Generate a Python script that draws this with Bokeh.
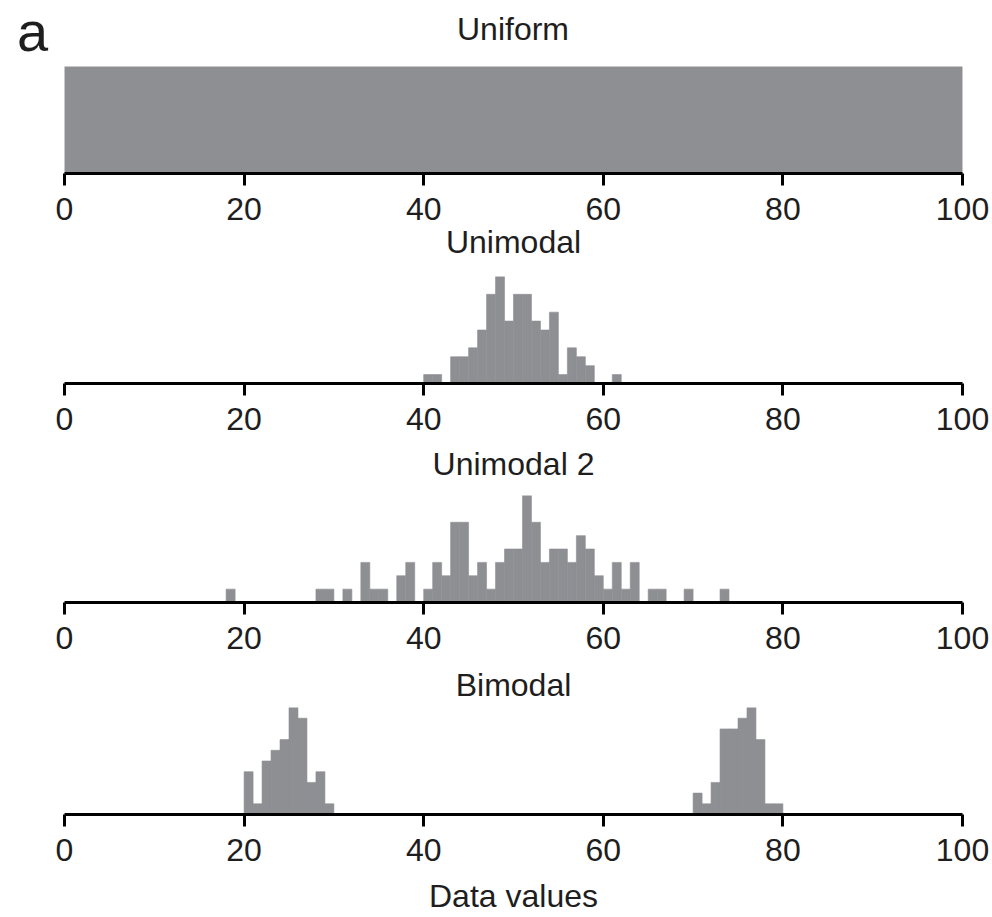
from bokeh.plotting import figure
from bokeh.layouts import column
from bokeh.models import Range1d, FixedTicker, Div
from bokeh.embed import file_html
from bokeh.resources import INLINE

FONT = "Liberation Sans"
GRAY = "#8e8f93"
TXT = "#1e1e1e"

# ---------------- data ----------------
ticks = [0, 20, 40, 60, 80, 100]
panel_letter = "a"
panel_titles = ["Uniform", "Unimodal", "Unimodal 2", "Bimodal"]
x_axis_title = "Data values"

uniform_bins = [0]
uniform_widths = [100]
uniform_counts = [1]

unimodal_bins = [40, 41, 43, 44, 45, 46, 47, 48, 49, 50, 51, 52, 53, 54, 55, 56, 57, 58, 61]
unimodal_counts = [1, 1, 3, 3, 4, 6, 10, 12, 7, 10, 10, 7, 6, 8, 1, 4, 3, 2, 1]

unimodal2_bins = [18, 28, 29, 31, 33, 34, 35, 37, 38, 40, 41, 42, 43, 44, 45, 46, 47, 48, 49,
                  50, 51, 52, 53, 54, 55, 56, 57, 58, 59, 60, 61, 62, 63, 65, 66, 69, 73]
unimodal2_counts = [1, 1, 1, 1, 3, 1, 1, 2, 3, 1, 3, 2, 6, 6, 2, 3, 1, 3, 4,
                    4, 8, 6, 3, 4, 4, 3, 5, 4, 2, 1, 3, 1, 3, 1, 1, 1, 1]

bimodal_bins = [20, 21, 22, 23, 24, 25, 26, 27, 28, 29, 70, 71, 72, 73, 74, 75, 76, 77, 78, 79]
bimodal_counts = [4, 1, 5, 6, 7, 10, 9, 3, 4, 1, 2, 1, 3, 8, 8, 9, 10, 7, 1, 1]

FRAME_W = 898
FRAME_H = 107
LEFT = 64
RIGHT = 30
TOTAL_W = LEFT + FRAME_W + RIGHT


def panel(bins, counts, widths, top_border, bottom_border, below_text, below_standoff):
    p = figure(frame_width=FRAME_W, frame_height=FRAME_H,
               x_range=Range1d(0, 100), y_range=Range1d(0, max(counts)),
               y_axis_location=None, output_backend="svg", toolbar_location=None,
               min_border_left=LEFT, min_border_right=RIGHT, min_border_top=top_border,
               min_border_bottom=bottom_border)
    p.outline_line_color = None
    p.xgrid.visible = False
    p.ygrid.visible = False
    p.background_fill_color = None
    p.border_fill_color = "white"

    rights = [b + w for b, w in zip(bins, widths)]
    p.quad(left=bins, right=rights, bottom=0, top=counts,
           fill_color=GRAY, line_color=GRAY, line_width=0.6)

    ax = p.xaxis[0]
    ax.ticker = FixedTicker(ticks=ticks)
    ax.axis_line_width = 3
    ax.axis_line_color = "black"
    ax.major_tick_line_width = 3
    ax.major_tick_line_color = "black"
    ax.major_tick_out = 12
    ax.major_tick_in = 0
    ax.minor_tick_line_color = None
    ax.major_label_text_font = FONT
    ax.major_label_text_font_size = "32px"
    ax.major_label_text_color = TXT
    ax.major_label_standoff = 12
    # text that sits under this panel (next panel's heading / axis title)
    ax.axis_label = below_text
    ax.axis_label_text_font = FONT
    ax.axis_label_text_font_size = "32px"
    ax.axis_label_text_font_style = "normal"
    ax.axis_label_text_color = TXT
    ax.axis_label_standoff = below_standoff
    return p


HEAD_H = 60
head_html = (
    f'<div style="position:relative;width:{TOTAL_W}px;height:{HEAD_H}px;'
    f"font-family:'{FONT}',Arial,sans-serif;color:{TXT};\">"
    f'<span style="position:absolute;left:17px;top:4px;font-size:56px;line-height:1;">{panel_letter}</span>'
    f'<span style="position:absolute;left:{LEFT}px;width:{FRAME_W}px;top:13px;'
    f'font-size:32px;line-height:1;text-align:center;">{panel_titles[0]}</span>'
    '</div>'
)
head = Div(text=head_html, width=TOTAL_W, height=HEAD_H, margin=0)

p1 = panel(uniform_bins, uniform_counts, uniform_widths, 66 - HEAD_H, 103, panel_titles[1], 1)
p2 = panel(unimodal_bins, unimodal_counts, [1] * len(unimodal_bins), 0, 112, panel_titles[2], 13)
p3 = panel(unimodal2_bins, unimodal2_counts, [1] * len(unimodal2_bins), 0, 105, panel_titles[3], 15)
p4 = panel(bimodal_bins, bimodal_counts, [1] * len(bimodal_bins), 0, 0, x_axis_title, 14)

layout = column(head, p1, p2, p3, p4, spacing=0)

open("out.html", "w").write(file_html(layout, INLINE))
